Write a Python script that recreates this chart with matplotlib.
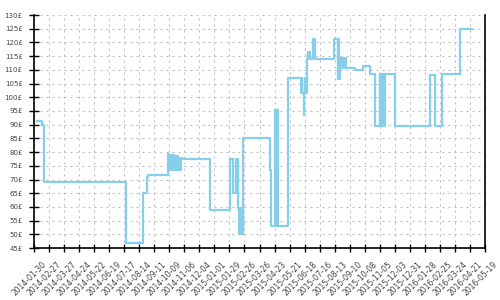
import matplotlib
matplotlib.use("Agg")
import matplotlib.pyplot as plt
import matplotlib.dates as mdates
import matplotlib.transforms as mtransforms
import pandas as pd

# price history (date the price changed, new price in £)
change_dates = [
    "2014-02-05", "2014-02-13", "2014-02-17", "2014-07-20", "2014-08-21",
    "2014-08-28", "2014-08-30", "2014-10-07", "2014-10-09", "2014-10-11",
    "2014-10-13", "2014-10-15", "2014-10-17", "2014-10-19", "2014-10-21",
    "2014-10-23", "2014-10-25", "2014-10-27", "2014-10-29", "2014-10-31",
    "2014-11-01", "2014-12-24", "2015-01-30", "2015-02-05", "2015-02-10",
    "2015-02-14", "2015-02-16", "2015-02-17", "2015-02-18", "2015-02-19",
    "2015-02-20", "2015-02-22", "2015-02-23", "2015-02-24", "2015-04-14",
    "2015-04-16", "2015-04-24", "2015-04-25", "2015-04-26", "2015-04-27",
    "2015-04-28", "2015-04-30", "2015-05-19", "2015-06-12", "2015-06-13",
    "2015-06-14", "2015-06-16", "2015-06-17", "2015-06-18", "2015-06-19",
    "2015-06-22", "2015-06-25", "2015-06-28", "2015-07-04", "2015-07-07",
    "2015-08-11", "2015-08-19", "2015-08-20", "2015-08-21", "2015-08-23",
    "2015-08-26", "2015-08-28", "2015-08-30", "2015-09-01", "2015-09-04",
    "2015-09-20", "2015-10-05", "2015-10-18", "2015-10-27", "2015-11-05",
    "2015-11-06", "2015-11-08", "2015-11-09", "2015-11-11", "2015-11-12",
    "2015-11-14", "2015-12-03", "2016-02-07", "2016-02-16", "2016-02-28",
    "2016-04-03", "2016-04-24",
]
prices = [
    91.5, 90, 69, 47, 65,
    71, 71.5, 79.3, 73.5, 79,
    73.5, 79, 73.5, 78.5, 73.5,
    78.5, 73.5, 78, 73.5, 78,
    77.5, 59, 77.5, 65, 77.5,
    59.7, 50, 59.7, 50, 59.7,
    50, 59.7, 50, 85.2, 73.5,
    53, 95.3, 53, 95.3, 53,
    95.3, 53, 107, 101.4, 107,
    101.4, 93.5, 101.4, 107, 101.4,
    114, 116.4, 114, 121.2, 114,
    121.2, 106.5, 121.2, 106.5, 114.2,
    110.6, 114.2, 110.6, 114.2, 110.8,
    110, 111.5, 108.4, 89.5, 108.4,
    89.5, 108.4, 89.5, 108.4, 89.5,
    108.4, 89.5, 108.1, 89.5, 108.4,
    125, 125,
]

x_start = "2014-01-30"
x_end = "2016-05-19"
y_ticks = list(range(45, 131, 5))

dates = pd.to_datetime(change_dates)
tick_dates = pd.date_range(x_start, x_end, freq="28D")

fig = plt.figure(figsize=(5, 3), dpi=100)
ax = fig.add_axes([0.068, 0.173, 0.902, 0.777])

ax.plot(dates, prices, drawstyle="steps-post", color="#87ceeb", linewidth=1.6)

ax.set_xlim(pd.Timestamp(x_start), pd.Timestamp(x_end))
ax.set_ylim(45, 130)
ax.set_yticks(y_ticks)
ax.set_yticklabels([f"{v}£" for v in y_ticks])
ax.set_xticks(tick_dates)
ax.set_xticklabels([d.strftime("%Y-%m-%d") for d in tick_dates])

ax.grid(True, color="#bbbbbb", linestyle=(0, (1.8, 3.6)), linewidth=0.8)
ax.set_axisbelow(True)

ax.spines["top"].set_visible(False)
for s in ("left", "bottom", "right"):
    ax.spines[s].set_linewidth(1.2)
    ax.spines[s].set_color("black")

ax.tick_params(axis="y", direction="inout", length=6.5, width=1, pad=5,
               labelsize=5, labelcolor="#444444")
ax.tick_params(axis="x", direction="inout", length=5.5, width=1, pad=6,
               labelsize=5.5, labelcolor="#444444")

shift = mtransforms.ScaledTranslation(14 / 100, 0, fig.dpi_scale_trans)
for lbl in ax.get_xticklabels():
    lbl.set_rotation(45)
    lbl.set_ha("right")
    lbl.set_va("top")
    lbl.set_transform(lbl.get_transform() + shift)

fig.savefig("out.png", dpi=100)
